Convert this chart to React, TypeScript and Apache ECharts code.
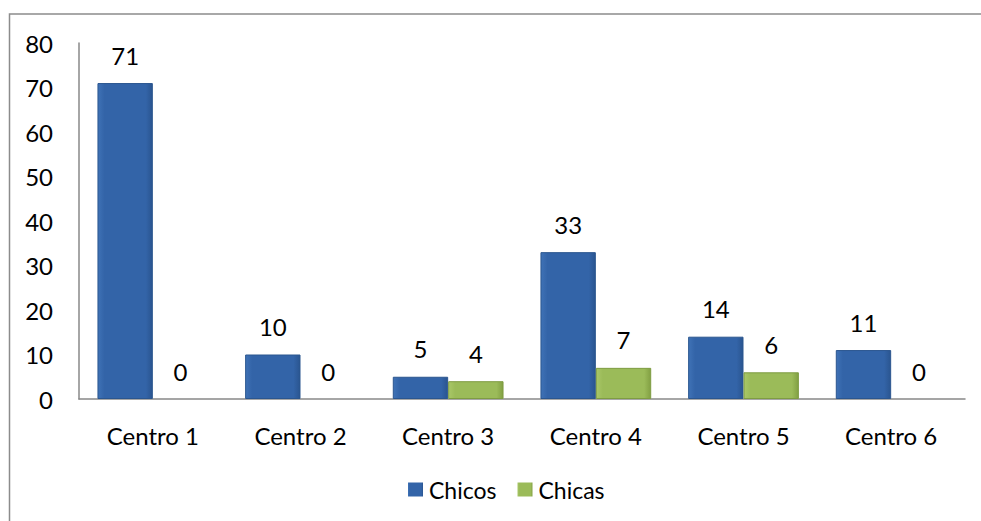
import React, { useEffect, useRef } from "react";
import * as echarts from "echarts";

const categories = ["Centro 1", "Centro 2", "Centro 3", "Centro 4", "Centro 5", "Centro 6"];
const chicos = [71, 10, 5, 33, 14, 11];
const chicas = [0, 0, 4, 7, 6, 0];
const seriesNames = ["Chicos", "Chicas"];

const FONT = "Lato, 'Open Sans', sans-serif";
const FS = 24;

export default function App() {
  const ref = useRef<HTMLDivElement>(null);
  useEffect(() => {
    if (!ref.current) return;
    const chart = echarts.init(ref.current, undefined, { renderer: "svg" });
    const blue = new echarts.graphic.LinearGradient(0, 0, 1, 0, [
      { offset: 0, color: "#3F72B6" },
      { offset: 0.12, color: "#3364A8" },
      { offset: 0.88, color: "#3364A8" },
      { offset: 1, color: "#2A5590" },
    ]);
    const green = new echarts.graphic.LinearGradient(0, 0, 1, 0, [
      { offset: 0, color: "#A9C768" },
      { offset: 0.12, color: "#9BBB59" },
      { offset: 0.88, color: "#9BBB59" },
      { offset: 1, color: "#82A043" },
    ]);
    const label = {
      show: true,
      position: "top" as const,
      distance: 16,
      color: "#000",
      fontSize: FS,
      fontFamily: FONT,
    };
    const mk = (vals: number[], border: string) =>
      vals.map((v) => ({ value: v, itemStyle: { borderWidth: v === 0 ? 0 : 1, borderColor: border } }));
    chart.setOption({
      animation: false,
      textStyle: { fontFamily: FONT },
      graphic: [
        {
          type: "rect",
          shape: { x: 9.5, y: 14, width: 1200, height: 800 },
          style: { fill: "none", stroke: "#8C8C8C", lineWidth: 1.5 },
          silent: true,
        },
      ],
      grid: { left: 79, right: 16, top: 43, bottom: 122, containLabel: false },
      legend: {
        left: 403,
        top: 473,
        itemWidth: 15,
        itemHeight: 14,
        itemGap: 21,
        icon: "rect",
        textStyle: { fontSize: 23, color: "#000", fontFamily: FONT, padding: [0, 0, 0, 1] },
        data: seriesNames,
      },
      xAxis: {
        type: "category",
        data: categories,
        axisLine: { lineStyle: { color: "#888", width: 1.5 } },
        axisTick: { show: false },
        axisLabel: { fontSize: FS, color: "#000", margin: 24, fontFamily: FONT },
      },
      yAxis: {
        type: "value",
        min: 0,
        max: 80,
        interval: 10,
        axisLine: { show: true, lineStyle: { color: "#888", width: 1.5 } },
        axisTick: { show: false },
        splitLine: { show: false },
        axisLabel: { fontSize: FS, color: "#000", margin: 26, fontFamily: FONT },
      },
      series: [
        {
          name: seriesNames[0],
          type: "bar",
          data: mk(chicos, "#2B568F"),
          barGap: "0%",
          barCategoryGap: "25%",
          itemStyle: { color: blue },
          label,
        },
        {
          name: seriesNames[1],
          type: "bar",
          data: mk(chicas, "#7E9C42"),
          itemStyle: { color: green },
          label,
        },
      ],
    });
    return () => chart.dispose();
  }, []);
  return (
    <div
      ref={ref}
      style={{ position: "fixed", left: 0, top: 0, width: 981, height: 521, background: "#fff" }}
    />
  );
}
